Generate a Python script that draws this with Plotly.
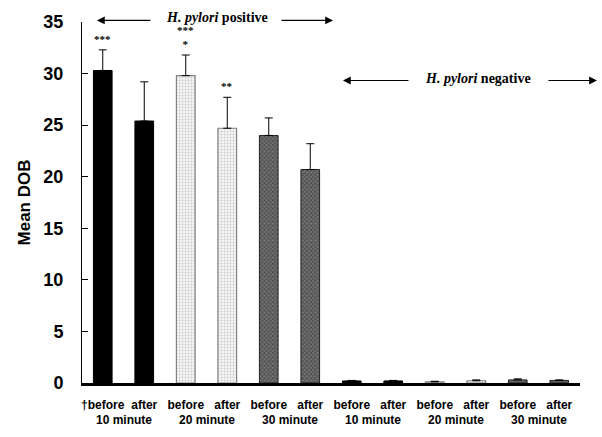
import plotly.graph_objects as go

categories = ["p10b", "p10a", "p20b", "p20a", "p30b", "p30a",
              "n10b", "n10a", "n20b", "n20a", "n30b", "n30a"]
tick_labels = ["\u2020before", "after", "before", "after", "before", "after",
               "before", "after", "before", "after", "before", "after"]
group_labels = ["10 minute", "20 minute", "30 minute", "10 minute", "20 minute", "30 minute"]
mean_dob = [30.3, 25.4, 29.8, 24.7, 24.0, 20.7, 0.2, 0.2, 0.12, 0.22, 0.3, 0.25]
sd_plus = [2.0, 3.8, 2.0, 3.0, 1.7, 2.5, 0.05, 0.05, 0.05, 0.08, 0.1, 0.05]
stars = ["***", "", "***<br>*", "**", "", "", "", "", "", "", "", ""]

styles = {
    "black": dict(color="black", line=dict(color="black", width=1)),
    "dots": dict(color="#f4f4f4", line=dict(color="#808080", width=1.2),
                 pattern=dict(shape=".", fgcolor="#999999", bgcolor="#f6f6f6", size=3, solidity=0.3)),
    "hatch": dict(color="#555555", line=dict(color="#222222", width=1),
                  pattern=dict(shape="x", fgcolor="#1e1e1e", bgcolor="#777777", size=3, solidity=0.5)),
}
style_of = ["black", "black", "dots", "dots", "hatch", "hatch"] * 2

fig = go.Figure()
for key in ["black", "dots", "hatch"]:
    idx = [i for i, s in enumerate(style_of) if s == key]
    fig.add_trace(go.Bar(
        x=[categories[i] for i in idx],
        y=[mean_dob[i] for i in idx],
        width=0.45,
        marker=styles[key],
        error_y=dict(type="data", symmetric=False,
                     array=[sd_plus[i] for i in idx],
                     arrayminus=[0] * len(idx),
                     color="black", thickness=1, width=4),
        showlegend=False,
    ))

annotations = []
star_font = dict(family="Liberation Serif", size=11, color="#000000")
for i, s in enumerate(stars):
    if s:
        annotations.append(dict(x=categories[i], y=mean_dob[i] + sd_plus[i], yref="y",
                                text="<b>%s</b>" % s, showarrow=False,
                                yanchor="bottom", yshift=3, font=star_font))
for g, lab in enumerate(group_labels):
    annotations.append(dict(x=2 * g + 0.5, xref="x", y=-0.102, yref="paper",
                            text="<b>%s</b>" % lab, showarrow=False, yanchor="middle",
                            font=dict(family="Liberation Sans", size=12, color="black")))

serif = dict(family="Liberation Serif", size=14, color="black")
annotations += [
    dict(x=0.271, y=1.013, xref="paper", yref="paper", text="<b><i>H. pylori</i> positive</b>",
         showarrow=False, xanchor="center", yanchor="middle", font=serif),
    dict(x=0.795, y=0.843, xref="paper", yref="paper", text="<b><i>H. pylori</i> negative</b>",
         showarrow=False, xanchor="center", yanchor="middle", font=serif),
]
# (head x, tail offset in px, y) in paper coordinates
arrows = [(0.030, 55, 1.0045), (0.504, -53, 1.0045), (0.524, 67, 0.838), (1.034, -50, 0.838)]
for head, off, yv in arrows:
    annotations.append(dict(x=head, y=yv, xref="paper", yref="paper",
                            ax=off, ay=0, text="", showarrow=True,
                            arrowhead=2, arrowsize=1.3, arrowwidth=1.2, arrowcolor="black"))

fig.update_layout(
    width=602, height=437,
    margin=dict(l=82, r=22, t=19, b=54),
    plot_bgcolor="white", paper_bgcolor="white",
    annotations=annotations,
    xaxis=dict(type="category", categoryorder="array", categoryarray=categories,
               range=[-0.5, 11.5], tickvals=categories, ticktext=tick_labels,
               ticks="", showline=True, linecolor="black", linewidth=2.5,
               showgrid=False, ticklabelstandoff=9,
               tickfont=dict(family="Liberation Sans", size=12, color="black", weight="bold")),
    yaxis=dict(range=[0, 35], dtick=5, ticks="inside", ticklen=6, tickcolor="black",
               showline=True, linecolor="black", linewidth=1, showgrid=False,
               zeroline=False, ticklabelstandoff=14,
               tickfont=dict(family="Liberation Sans", size=18, color="black", weight="bold"),
               title=dict(text="<b>Mean DOB</b>", standoff=8,
                          font=dict(family="Liberation Sans", size=17, color="black"))),
)

fig.write_html("out.html", config={"displayModeBar": False},
               post_script="document.body.style.margin='0';")
